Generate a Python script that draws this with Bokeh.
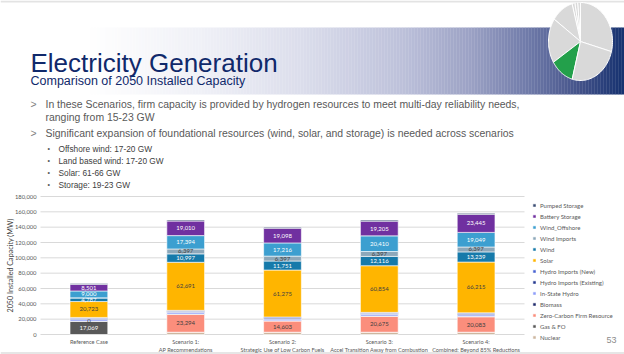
import numpy as np
from bokeh.plotting import figure
from bokeh.models import (Range1d, Legend, LegendItem, FixedTicker, NumeralTickFormatter,
                          ColumnDataSource, LinearAxis)
from bokeh.embed import file_html
from bokeh.resources import INLINE
from bokeh.core.properties import value

# ---------------- data ----------------
categories = ["Reference Case", "Scenario 1", "Scenario 2", "Scenario 3", "Scenario 4"]
category_labels = ["Reference Case",
                   "Scenario 1:\nAP Recommendations",
                   "Scenario 2:\nStrategic Use of Low Carbon Fuels",
                   "Scenario 3:\nAccel Transition Away from Combustion",
                   "Scenario 4:\nCombined: Beyond 85% Reductions"]

series_names = ["Nuclear", "Gas & FO", "Zero-Carbon Firm Resource", "Biomass", "In-State Hydro",
                "Hydro Imports (Existing)", "Hydro Imports (New)", "Solar", "Wind", "Wind Imports",
                "Wind_Offshore", "Battery Storage", "Pumped Storage"]

nuclear = [0, 3000, 3000, 3000, 3000]
gas_fo = [17069, 0, 0, 0, 0]
zero_carbon = [0, 23294, 14603, 20675, 20083]
biomass = [400, 400, 400, 400, 400]
in_state_hydro = [2200, 2200, 2200, 2200, 2200]
hydro_imports_existing = [1300, 1300, 1300, 1300, 1300]
hydro_imports_new = [1300, 1300, 1300, 1300, 1300]
solar = [20723, 62691, 61275, 60854, 66215]
wind = [4787, 10997, 11751, 12116, 13239]
wind_imports = [0, 6397, 6397, 6397, 6397]
wind_offshore = [9000, 17394, 17216, 20410, 19049]
battery_storage = [8501, 19010, 19098, 19205, 23445]
pumped_storage = [1400, 1400, 1400, 1400, 1400]

series_values = [nuclear, gas_fo, zero_carbon, biomass, in_state_hydro, hydro_imports_existing,
                 hydro_imports_new, solar, wind, wind_imports, wind_offshore, battery_storage,
                 pumped_storage]

series_colors = ["#CDB79F", "#595959", "#FB8E7C", "#1F2A6B", "#8E9EFA", "#24388F", "#4762D2",
                 "#FFB500", "#167AAA", "#8DA8BA", "#3C9FD0", "#7030A0", "#3C4E74"]

# which series carry data labels, and their text colour
label_series = {"Gas & FO": "white", "Zero-Carbon Firm Resource": "#404040", "Solar": "#404040",
                "Wind": "white", "Wind Imports": "#404040", "Wind_Offshore": "white",
                "Battery Storage": "white"}

y_ticks = [0, 20000, 40000, 60000, 80000, 100000, 120000, 140000, 160000, 180000]
y_max = 180000

# header texts
title_text = "Electricity Generation"
subtitle_text = "Comparison of 2050 Installed Capacity"
bullet_lines = ["In these Scenarios, firm capacity is provided by hydrogen resources to meet multi-day reliability needs,",
                "ranging from 15-23 GW",
                "Significant expansion of foundational resources (wind, solar, and storage) is needed across scenarios"]
sub_bullets = ["Offshore wind: 17-20 GW", "Land based wind: 17-20 GW", "Solar: 61-66 GW", "Storage: 19-23 GW"]
page_number = "53"
y_axis_title = "2050 Installed Capacity (MW)"

# decorative pie in the corner (shares in %)
pie_shares = [29.2, 1.4, 1.4, 1.4, 11.1, 18.6, 11.9, 25.0]
pie_colors = ["#D9D9D9", "#D9D9D9", "#D9D9D9", "#D9D9D9", "#D9D9D9", "#D9D9D9", "#23A04B", "#D9D9D9"]

FONT = "Liberation Sans"
CFONT = "Lato"

# ---------------- page geometry (pixels) ----------------
W, H = 624, 354
PL, PR, PT, PB = 40, 524, 196, 334          # chart plot area on the page
n = len(categories)
ux = (PR - PL) / n                           # px per category
uy = y_max / (PB - PT)                       # MW per px

p = figure(width=W, height=H, x_range=Range1d(0, W), y_range=Range1d(H, 0),
           output_backend="svg", toolbar_location=None, min_border=0,
           x_axis_location=None, y_axis_location=None, title=None)
p.grid.visible = False
p.outline_line_color = None
p.background_fill_color = "white"
p.border_fill_color = "white"

# chart scales (category index / MW) mapped onto the plot area of the page
p.extra_x_ranges = {"cx": Range1d(-0.5 - PL / ux, -0.5 + (W - PL) / ux)}
p.extra_y_ranges = {"cy": Range1d((PB - H) * uy, PB * uy)}

# ---------------- slide decoration ----------------
p.quad(left=[0], right=[W], top=[0], bottom=[2], fill_color="#E3E3E3", line_color=None)

stops_x = [0, 90, 200, 300, 400, 470, 530, 580, 624]
stops_c = ["#FFFFFF", "#FFFFFF", "#F0F1F7", "#DCDEEC", "#BEC2DB", "#9CA2C5", "#6E79A8", "#435289", "#15316F"]
def hex2rgb(h):
    return tuple(int(h[i:i + 2], 16) for i in (1, 3, 5))
rgb_stops = [hex2rgb(c) for c in stops_c]
lefts, rights, cols = [], [], []
for x0 in range(0, W, 3):
    xm = x0 + 1.5
    rgb = [int(np.interp(xm, stops_x, [c[k] for c in rgb_stops])) for k in range(3)]
    lefts.append(x0)
    rights.append(x0 + 3.3)
    cols.append("#%02x%02x%02x" % tuple(rgb))
p.quad(left=lefts, right=rights, top=[27] * len(lefts), bottom=[94] * len(lefts),
       fill_color=cols, line_color=None)

cx0, cy0, rx, ry = 580, 41, 32, 39
bounds = np.deg2rad(-15 + 3.6 * np.concatenate([[0], np.cumsum(pie_shares)]))
xs, ys = [], []
for i in range(len(pie_shares)):
    t = np.linspace(bounds[i], bounds[i + 1], 40)
    xs.append([cx0] + list(cx0 + rx * np.cos(t)))
    ys.append([cy0] + list(cy0 - ry * np.sin(t)))
p.patches(xs, ys, fill_color=pie_colors, line_color="white", line_width=1)

p.text(x=[30], y=[62], text=[title_text], text_font=value(FONT), text_font_size="26px",
       text_color="#10296B", text_baseline="alphabetic")
p.text(x=[30], y=[80], text=[subtitle_text], text_font=value(FONT), text_font_size="12.5px",
       text_color="#10296B", text_baseline="alphabetic")

p.text(x=[30, 30], y=[104, 133], text=[">", ">"], text_font=value(FONT), text_font_size="10.4px",
       text_color="#7F7F7F", text_baseline="middle")
p.text(x=[45, 45, 45], y=[104, 117, 133], text=bullet_lines, text_font=value(FONT),
       text_font_size="10.45px", text_color="#595959", text_baseline="middle")
sub_y = [148, 160, 172, 184]
p.text(x=[47] * 4, y=sub_y, text=["•"] * 4, text_font=value(FONT), text_font_size="7px",
       text_color="#595959", text_baseline="middle")
p.text(x=[58] * 4, y=sub_y, text=sub_bullets, text_font=value(FONT), text_font_size="8.3px",
       text_color="#404040", text_baseline="middle")

p.text(x=[606], y=[339], text=[page_number], text_font=value(FONT), text_font_size="9px",
       text_color="#8C8C8C", text_baseline="middle")
p.quad(left=[0], right=[W], top=[351.5], bottom=[354], fill_color="#E6E6E6", line_color=None)

p.text(x=[10], y=[(PT + PB) / 2], text=[y_axis_title], angle=np.pi / 2, text_font=value(CFONT),
       text_font_size="7.2px", text_color="#404040", text_align="center", text_baseline="middle")

# ---------------- chart ----------------
xi = list(range(n))
# gridlines at the tick values across the category span
p.segment(x0=[-0.5] * len(y_ticks), x1=[n - 0.5] * len(y_ticks), y0=y_ticks, y1=y_ticks,
          line_color="#D9D9D9", line_width=1, x_range_name="cx", y_range_name="cy")

src = ColumnDataSource({"xi": xi, **{nm: v for nm, v in zip(series_names, series_values)}})
renderers = p.vbar_stack(series_names, x="xi", width=0.39, source=src, color=series_colors,
                         line_color="white", line_width=0.6, x_range_name="cx", y_range_name="cy")

cum = np.zeros(n)
lx, ly, lt, lc = [], [], [], []
for nm, vals in zip(series_names, series_values):
    vals = np.array(vals, dtype=float)
    centers = cum + vals / 2
    if nm in label_series:
        for i, v in enumerate(vals):
            if v > 0 or (nm == "Zero-Carbon Firm Resource" and i == 0):
                lx.append(xi[i])
                ly.append(centers[i])
                lt.append("{:,}".format(int(v)))
                lc.append(label_series[nm])
    cum += vals
p.text(x=lx, y=ly, text=lt, text_color=lc, text_font=value(CFONT), text_font_size="6px",
       text_align="center", text_baseline="middle", x_range_name="cx", y_range_name="cy")

yax = LinearAxis(y_range_name="cy", fixed_location=PL, ticker=FixedTicker(ticks=y_ticks),
                 formatter=NumeralTickFormatter(format="0,0"))
yax.axis_line_color = None
yax.major_tick_line_color = None
yax.minor_tick_line_color = None
yax.major_tick_out = 0
yax.major_tick_in = 0
yax.minor_tick_out = 0
yax.major_label_text_font = CFONT
yax.major_label_text_font_size = "5.8px"
yax.major_label_text_color = "#595959"
yax.major_label_standoff = 4
p.add_layout(yax, "left")

xax = LinearAxis(x_range_name="cx", fixed_location=PB, ticker=FixedTicker(ticks=xi))
xax.major_label_overrides = {i: lab for i, lab in zip(xi, category_labels)}
xax.axis_line_color = None
xax.major_tick_line_color = None
xax.minor_tick_line_color = None
xax.major_tick_out = 0
xax.major_tick_in = 0
xax.minor_tick_out = 0
xax.major_label_text_font = CFONT
xax.major_label_text_font_size = "5.6px"
xax.major_label_text_color = "#595959"
xax.major_label_standoff = 3
p.add_layout(xax, "below")

legend = Legend(items=[LegendItem(label=nm, renderers=[r]) for nm, r in zip(series_names[::-1], renderers[::-1])],
                location=(532, H - 341), orientation="vertical", margin=0, padding=0,
                glyph_width=4, glyph_height=4, label_height=8, spacing=3, label_standoff=4,
                label_text_font=CFONT, label_text_font_size="6px", label_text_color="#595959",
                border_line_color=None, background_fill_alpha=0)
p.add_layout(legend)

open("out.html", "w").write(file_html(p, INLINE))
